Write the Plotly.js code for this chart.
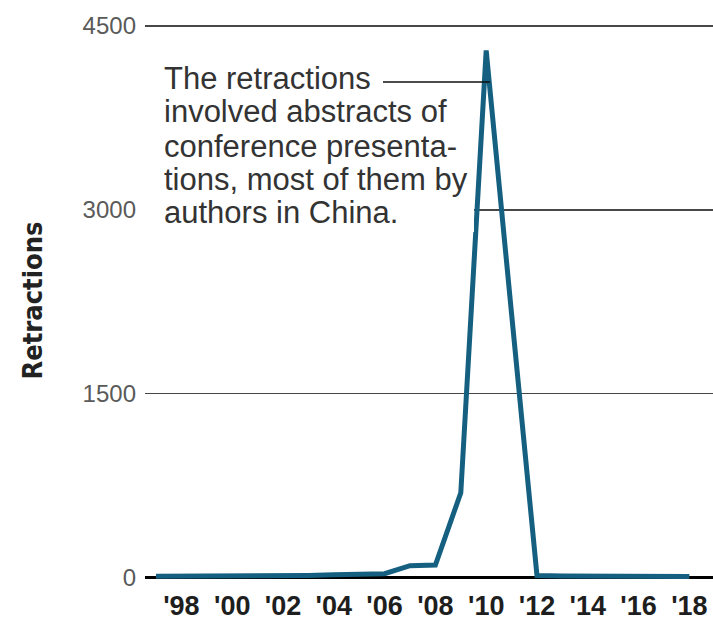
<!DOCTYPE html>
<html>
<head>
<meta charset="utf-8">
<script src="https://cdn.plot.ly/plotly-3.0.1.min.js"></script>
<style>
  html, body { margin: 0; padding: 0; background: #ffffff; }
  #chart { width: 713px; height: 622px; }
</style>
</head>
<body>
<div id="chart"></div>
<script>
// ---- data ----
const years = [1997, 1998, 1999, 2000, 2001, 2002, 2003, 2004, 2005, 2006, 2007,
               2008, 2009, 2010, 2011, 2012, 2013, 2014, 2015, 2016, 2017, 2018];
const retractions = [8, 8, 9, 10, 10, 12, 15, 20, 25, 30, 95,
                     100, 690, 4300, 2150, 15, 10, 10, 8, 8, 6, 6];
const tickYears = [1998, 2000, 2002, 2004, 2006, 2008, 2010, 2012, 2014, 2016, 2018];
const tickLabels = ["'98", "'00", "'02", "'04", "'06", "'08", "'10", "'12", "'14", "'16", "'18"];
const yTicks = [0, 1500, 3000, 4500];
const yTickLabels = ["0", "1500", "3000", "4500"];
const yTitle = "Retractions";
const noteLines = [
  "The retractions",
  "involved abstracts of",
  "conference presenta-",
  "tions, most of them by",
  "authors in China."
];

// ---- layout helpers (pixel -> paper) ----
const W = 713, H = 622;
const M = {l: 145, r: 0, t: 20, b: 41};
const PW = W - M.l - M.r, PH = H - M.t - M.b;
const px = x => (x - M.l) / PW;
const py = y => (H - M.b - y) / PH;

const noteY = [78, 112, 146, 180, 213];
const annotations = noteLines.map((t, i) => ({
  xref: 'paper', yref: 'paper',
  x: px(162), y: py(noteY[i]),
  xanchor: 'left', yanchor: 'middle',
  text: t, showarrow: false,
  font: {family: 'Liberation Sans, Arial, sans-serif', size: 31, color: '#333333'}
}));

const trace = {
  x: years, y: retractions,
  type: 'scatter', mode: 'lines',
  line: {color: '#156080', width: 5},
  cliponaxis: false,
  hoverinfo: 'skip'
};

const layout = {
  width: W, height: H,
  margin: M,
  paper_bgcolor: '#ffffff',
  plot_bgcolor: '#ffffff',
  showlegend: false,
  xaxis: {
    range: [1996.567, 2018.93],
    tickmode: 'array', tickvals: tickYears, ticktext: tickLabels,
    showgrid: false, zeroline: false, showline: false, ticks: '',
    tickfont: {family: 'Liberation Sans, Arial, sans-serif', size: 27, color: '#1e1e1e', weight: 'bold'},
    ticklabelstandoff: 6
  },
  yaxis: {
    range: [-30, 4549],
    tickmode: 'array', tickvals: yTicks, ticktext: yTickLabels,
    showgrid: true, gridcolor: '#474747', gridwidth: 1.6,
    zeroline: true, zerolinecolor: '#000000', zerolinewidth: 3,
    showline: false, ticks: '',
    tickfont: {family: 'Liberation Sans, Arial, sans-serif', size: 24, color: '#5a5a5a'},
    ticklabelstandoff: 8,
    title: {
      text: '<b>' + yTitle + '</b>',
      font: {family: 'Liberation Sans Narrow, DejaVu Sans Condensed, Arial Narrow, sans-serif', size: 27, color: '#222222'},
      standoff: 32
    }
  },
  shapes: [
    {type: 'rect', layer: 'above', xref: 'paper', yref: 'paper',
     x0: px(138), x1: px(474), y0: py(58), y1: py(232),
     fillcolor: '#ffffff', line: {width: 0}},
    {type: 'line', layer: 'above', xref: 'paper', yref: 'paper',
     x0: px(383), x1: px(490), y0: py(82), y1: py(82),
     line: {color: '#111111', width: 1.5}}
  ],
  annotations: annotations
};

Plotly.newPlot('chart', [trace], layout, {staticPlot: true, displayModeBar: false});
</script>
</body>
</html>
